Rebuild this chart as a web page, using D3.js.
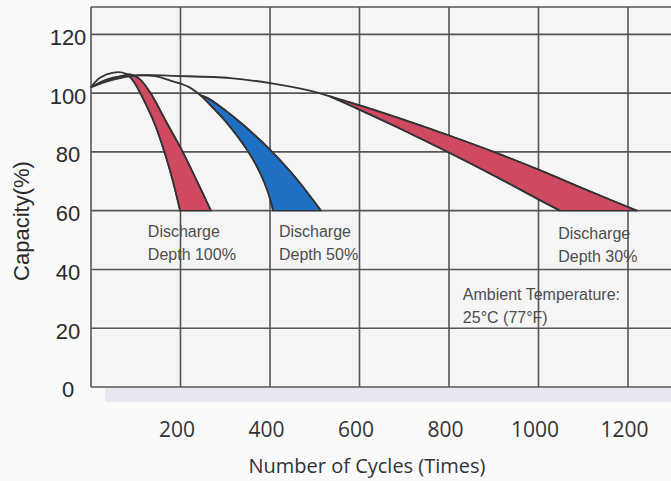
<!DOCTYPE html>
<html><head><meta charset="utf-8">
<script src="https://cdnjs.cloudflare.com/ajax/libs/d3/7.8.5/d3.min.js"></script>
<style>html,body{margin:0;padding:0;background:#fafafa;}svg{display:block}</style>
</head><body>
<svg id="chart" width="671" height="481"></svg>
<script>
// ---- data ----
const cycleTicks = [200, 400, 600, 800, 1000, 1200];
const capacityTicks = [0, 20, 40, 60, 80, 100, 120];
const xTitle = "Number of Cycles (Times)";
const yTitle = "Capacity(%)";

// Depth 100% : [cycles, capacity %]
const depth100Left  = [[0,102],[20,105.2],[50,107],[78,106.6],[95,104],[110,100],[141,90],[164,80],[183,70],[199,60]];
const depth100Right = [[0,102],[35,104.2],[67,105.8],[90,106.3],[110,104.6],[133,100],[169,90],[205,80],[237,70],[268,60]];
const depth100Start = [78, 90];
// Depth 50%
const depth50Left  = [[0,102],[38,104.8],[98,106],[143,105.8],[183,104],[217,102.2],[244,99.3],[275,94.6],[304,89.8],[349,80.6],[378,72.8],[396,66],[407,60]];
const depth50Right = [[244,99.3],[262,98.2],[317,92.1],[383,83.3],[449,72.7],[514,60]];
const depth50Start = [244, 244];
// Depth 30%
const depth30Upper = [[0,102],[50,104.6],[105,106],[199,105.8],[311,105.1],[400,103.4],[496,100.6],[534,98.9],[608,95.5],[700,90.9],[802,85.5],[900,80],[1003,73.8],[1110,66.9],[1220,60]];
const depth30Lower = [[534,98.9],[608,93.8],[684,88.4],[802,79.6],[907,71.4],[1003,63.6],[1048,60]];
const depth30Start = [534, 534];

const annotations = [
  {lines:["Discharge","Depth 100%"], c:127, v:51},
  {lines:["Discharge","Depth 50%"], c:420, v:51},
  {lines:["Discharge","Depth 30%"], c:1044, v:50.3},
  {lines:["Ambient Temperature:","25°C  (77°F)"], c:831, v:29.6}
];

// ---- layout ----
const W = 671, H = 481;
const yMax = 129.3;
const x = d3.scaleLinear().domain([0, 1300]).range([91, 672.75]);
const y = d3.scaleLinear().domain([0, yMax]).range([387, 7]);
const svg = d3.select("#chart");

svg.append("rect").attr("x", x(0)).attr("y", y(yMax)).attr("width", W - x(0)).attr("height", y(0) - y(yMax)).attr("fill", "#f5f5f6");
svg.append("rect").attr("x", 105).attr("y", y(0) + 1).attr("width", W - 105).attr("height", 14).attr("fill", "#e6e7ef");

// grid
const grid = svg.append("g").attr("stroke", "#555").attr("stroke-width", 1.6);
grid.selectAll("line.h").data([...capacityTicks, yMax]).join("line").attr("class","h")
  .attr("x1", x(0)).attr("x2", W).attr("y1", d => y(d)).attr("y2", d => y(d));
grid.selectAll("line.v").data([0, ...cycleTicks]).join("line").attr("class","v")
  .attr("x1", d => x(d)).attr("x2", d => x(d)).attr("y1", y(0)).attr("y2", y(yMax));

// curves
const line = d3.line().x(d => x(d[0])).y(d => y(d[1])).curve(d3.curveCatmullRom.alpha(0.5));
function sample(pts, fromC) {
  const p = svg.append("path").attr("d", line(pts)).attr("fill","none");
  const node = p.node(), L = node.getTotalLength();
  const out = [];
  for (let i = 0; i <= 400; i++) { const q = node.getPointAtLength(L * i / 400); if (q.x >= x(fromC) - 0.01) out.push([q.x, q.y]); }
  p.remove();
  return out;
}
const bands = [
  {a: depth100Left, b: depth100Right, s: depth100Start, color: "#cf4a60"},
  {a: depth50Left,  b: depth50Right,  s: depth50Start,  color: "#1f70c4"},
  {a: depth30Lower, b: depth30Upper,  s: depth30Start,  color: "#cf4a60"}
];
bands.forEach(bd => {
  const pa = sample(bd.a, bd.s[0]);
  const pb = sample(bd.b, bd.s[1]);
  const poly = pa.concat(pb.reverse());
  svg.append("path").attr("d", d3.line()(poly) + "Z").attr("fill", bd.color)
    .attr("stroke", "#333").attr("stroke-width", 1.4).attr("stroke-linejoin","round");
});
[depth100Left, depth100Right, depth50Left, depth50Right, depth30Upper, depth30Lower].forEach(pts => {
  svg.append("path").attr("d", line(pts)).attr("fill", "none").attr("stroke", "#333").attr("stroke-width", 1.8);
});

// axes labels
const gx = svg.append("g").attr("transform", "translate(-4,437)")
  .call(d3.axisBottom(x).tickValues(cycleTicks).tickSize(0).tickFormat(d3.format("d")));
gx.select(".domain").remove();
gx.selectAll("text").attr("y", 0).attr("dy", 0).attr("fill", "#333")
  .style("font-family", "'Open Sans', sans-serif").style("font-size", "21px");

const gy = svg.append("g").attr("transform", "translate(68,2)")
  .call(d3.axisLeft(y).tickValues(capacityTicks).tickSize(0).tickPadding(0));
gy.select(".domain").remove();
gy.selectAll("text").attr("x", 0).attr("dy", "0.36em").attr("text-anchor", "middle").attr("fill", "#2a2a2a")
  .style("font-family", "'Liberation Sans', Arial, sans-serif").style("font-size", "22px");

// titles
svg.append("text").attr("x", 367).attr("y", 473).attr("text-anchor", "middle").attr("fill", "#333")
  .style("font-family", "'Open Sans', sans-serif").style("font-size", "20px").text(xTitle);
svg.append("text").attr("transform", "translate(29,221) rotate(-90)").attr("text-anchor", "middle").attr("fill", "#2a2a2a")
  .style("font-family", "'Liberation Sans', Arial, sans-serif").style("font-size", "22px").text(yTitle);

// annotations
annotations.forEach(a => {
  const t = svg.append("text").attr("x", x(a.c)).attr("y", y(a.v)).attr("fill", "#4d4d4d")
    .style("font-family", "'Liberation Sans', Arial, sans-serif").style("font-size", "16px");
  a.lines.forEach((l, i) => t.append("tspan").attr("x", x(a.c)).attr("dy", i ? 23 : 0).text(l));
});
</script>
</body></html>
